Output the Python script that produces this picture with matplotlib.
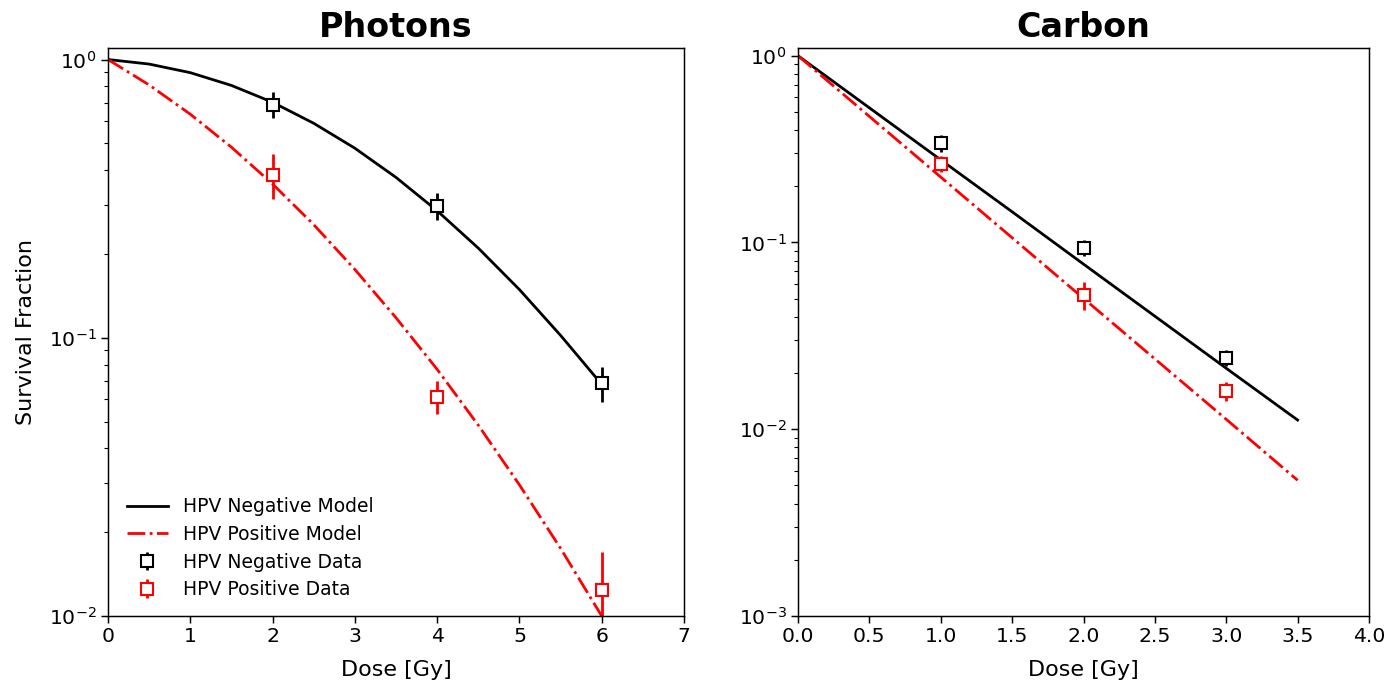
import numpy as np
import matplotlib
matplotlib.use("Agg")
import matplotlib.pyplot as plt

# --- Photons: LQ model curves sampled every 0.5 Gy ---
dose_photon_model = [0.0, 0.5, 1.0, 1.5, 2.0, 2.5, 3.0, 3.5, 4.0, 4.5, 5.0, 5.5, 6.0]
sf_photon_neg_model = [1.0, 0.963, 0.897, 0.807, 0.702, 0.590, 0.480, 0.377, 0.286, 0.210, 0.149, 0.102, 0.068]
sf_photon_pos_model = [1.0, 0.810, 0.636, 0.484, 0.357, 0.255, 0.176, 0.118, 0.077, 0.0485, 0.0296, 0.0175, 0.0100]

# --- Photons: measured survival ---
dose_photon_data = [2, 4, 6]
sf_photon_neg = [0.689, 0.297, 0.0687]
err_photon_neg = [0.074, 0.033, 0.0097]
sf_photon_pos = [0.386, 0.0615, 0.0124]
err_photon_pos = [0.072, 0.0085, 0.0046]

# --- Carbon: model curves ---
dose_carbon_model = [0.0, 0.5, 1.0, 1.5, 2.0, 2.5, 3.0, 3.5]
sf_carbon_neg_model = [1.0, 0.526, 0.277, 0.146, 0.0766, 0.0403, 0.0212, 0.0112]
sf_carbon_pos_model = [1.0, 0.473, 0.224, 0.106, 0.0502, 0.0238, 0.0113, 0.00533]

# --- Carbon: measured survival ---
dose_carbon_data = [1, 2, 3]
sf_carbon_neg = [0.3405, 0.094, 0.0242]
err_carbon_neg = [0.036, 0.0097, 0.0025]
sf_carbon_pos = [0.264, 0.0525, 0.0160]
err_carbon_pos = [0.025, 0.0088, 0.0018]

TICK_FS = 14.7
LABEL_FS = 16
TITLE_FS = 24
LEGEND_FS = 13.5


def draw_panel(ax, d_model, neg_model, pos_model, d_data, neg, neg_err, pos, pos_err):
    ax.plot(d_model, neg_model, color="black", lw=2, label="HPV Negative Model")
    ax.plot(d_model, pos_model, color="red", lw=2, ls="-.", label="HPV Positive Model")
    ax.errorbar(d_data, neg, yerr=neg_err, fmt="s", color="black", mfc="white",
                mec="black", ms=9, mew=1.5, elinewidth=2, capsize=0,
                label="HPV Negative Data")
    ax.errorbar(d_data, pos, yerr=pos_err, fmt="s", color="red", mfc="white",
                mec="red", ms=9, mew=1.5, elinewidth=2, capsize=0,
                label="HPV Positive Data")
    ax.set_yscale("log")
    ax.tick_params(which="major", labelsize=TICK_FS, length=4.7, width=1.07)
    ax.tick_params(which="minor", length=2.7, width=0.8)
    for sp in ax.spines.values():
        sp.set_linewidth(1.07)
    ax.set_xlabel("Dose [Gy]", fontsize=LABEL_FS, labelpad=10)


fig = plt.figure(figsize=(13.92, 6.87), dpi=100)
ax1 = fig.add_axes([108 / 1392, 1 - 616 / 687, 576 / 1392, 568 / 687])
ax2 = fig.add_axes([798 / 1392, 1 - 616 / 687, 571 / 1392, 568 / 687])

draw_panel(ax1, dose_photon_model, sf_photon_neg_model, sf_photon_pos_model,
           dose_photon_data, sf_photon_neg, err_photon_neg, sf_photon_pos, err_photon_pos)
ax1.set_xlim(0, 7)
ax1.set_ylim(0.01, 1.1)
ax1.set_title("Photons", fontsize=TITLE_FS, fontweight="bold", pad=8)
ax1.set_ylabel("Survival Fraction", fontsize=LABEL_FS, labelpad=9)
ax1.legend(loc="lower left", frameon=False, fontsize=LEGEND_FS, labelspacing=0.46,
           handlelength=2.2, bbox_to_anchor=(0.003, 0.0))

draw_panel(ax2, dose_carbon_model, sf_carbon_neg_model, sf_carbon_pos_model,
           dose_carbon_data, sf_carbon_neg, err_carbon_neg, sf_carbon_pos, err_carbon_pos)
ax2.set_xlim(0, 4)
ax2.set_xticks(np.arange(0, 4.01, 0.5))
ax2.set_ylim(0.001, 1.1)
ax2.set_title("Carbon", fontsize=TITLE_FS, fontweight="bold", pad=8)

fig.savefig("out.png", dpi=100)
